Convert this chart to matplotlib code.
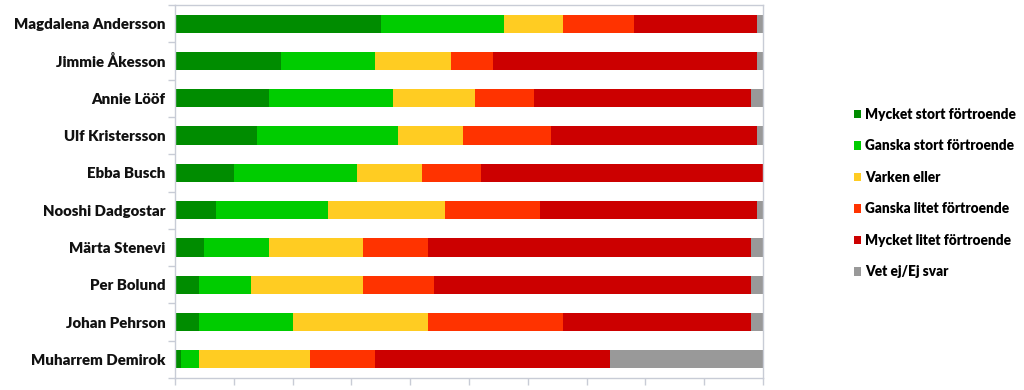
import matplotlib
matplotlib.use("Agg")
import matplotlib.pyplot as plt
from matplotlib.patches import Patch
import numpy as np

politicians = ["Magdalena Andersson", "Jimmie Åkesson", "Annie Lööf", "Ulf Kristersson",
               "Ebba Busch", "Nooshi Dadgostar", "Märta Stenevi", "Per Bolund",
               "Johan Pehrson", "Muharrem Demirok"]
categories = ["Mycket stort förtroende", "Ganska stort förtroende", "Varken eller",
              "Ganska litet förtroende", "Mycket litet förtroende", "Vet ej/Ej svar"]

mycket_stort = [35, 18, 16, 14, 10, 7, 5, 4, 4, 1]
ganska_stort = [21, 16, 21, 24, 21, 19, 11, 9, 16, 3]
varken_eller = [10, 13, 14, 11, 11, 20, 16, 19, 23, 19]
ganska_litet = [12, 7, 10, 15, 10, 16, 11, 12, 23, 11]
mycket_litet = [21, 45, 37, 35, 48, 37, 55, 54, 32, 40]
vet_ej = [1, 1, 2, 1, 0, 1, 2, 2, 2, 26]

series = [mycket_stort, ganska_stort, varken_eller, ganska_litet, mycket_litet, vet_ej]
colors = ["#008C00", "#00CC00", "#FFCC22", "#FF3300", "#CC0000", "#999999"]

plt.rcParams['font.family'] = ['Lato', 'DejaVu Sans']

fig = plt.figure(figsize=(10.24, 3.9), dpi=100)
ax = fig.add_axes([175/1024, 12/390, 588/1024, 373/390])

y = np.arange(len(politicians))
left = np.zeros(len(politicians))
for vals, col, lab in zip(series, colors, categories):
    v = np.array(vals, dtype=float)
    ax.barh(y, v, left=left, height=0.49, color=col, label=lab, linewidth=0)
    left += v

ax.set_xlim(0, 100)
ax.set_ylim(len(politicians) - 0.5, -0.5)
ax.set_xticks(np.arange(0, 101, 10))
ax.set_xticklabels([])
ax.set_yticks(y)
ax.set_yticklabels(politicians, fontsize=10.8, fontweight='heavy', color='#111111')
ax.set_yticks(np.arange(-0.5, len(politicians), 1), minor=True)
ax.tick_params(axis='y', which='major', length=0, pad=7)
ax.tick_params(axis='y', which='minor', length=5, color='#C8CCD6', width=1)
ax.tick_params(axis='x', length=5, color='#C8CCD6', width=1)
for s in ax.spines.values():
    s.set_color('#C8CCD6')
    s.set_linewidth(1)

handles = [Patch(facecolor=c, edgecolor='none') for c in colors]
fig.legend(handles, categories, loc='center left', bbox_to_anchor=(847/1024, 0.505),
           frameon=False, borderpad=0, handlelength=0.55, handleheight=0.55,
           handletextpad=0.25, labelspacing=1.36,
           prop={'size': 9.8, 'weight': 'heavy'})

fig.savefig("out.png", dpi=100)
